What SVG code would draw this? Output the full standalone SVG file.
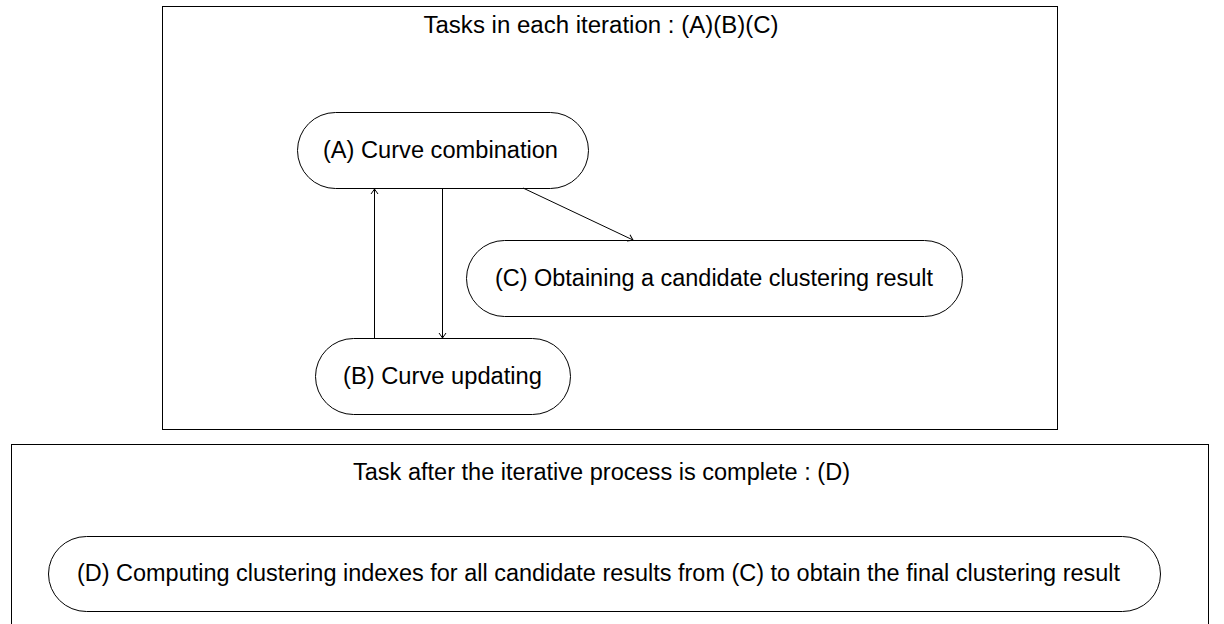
<svg xmlns="http://www.w3.org/2000/svg" width="1224" height="624" viewBox="0 0 1224 624">
  <style>
    text { font-family: "Liberation Sans", Arial, sans-serif; font-size: 23.5px; fill: #000; text-anchor: middle; }
    .frame { fill: none; stroke: #000; stroke-width: 1; }
    .node { fill: #fff; stroke: #000; stroke-width: 1; }
    .edge { fill: none; stroke: #000; stroke-width: 1; marker-end: url(#tip); }
  </style>
  <defs>
    <marker id="tip" viewBox="-6 -5 8 10" markerWidth="8" markerHeight="10" refX="0" refY="0" orient="auto" markerUnits="userSpaceOnUse">
      <path d="M-5,-3.5 Q-1.5,-1 0,0 Q-1.5,1 -5,3.5" fill="none" stroke="#000" stroke-width="1"/>
    </marker>
  </defs>

  <!-- iteration frame -->
  <g id="frame-iteration">
    <rect class="frame" x="162.5" y="6.5" width="895" height="423"/>
    <text x="601" y="33" textLength="355" lengthAdjust="spacingAndGlyphs">Tasks in each iteration : (A)(B)(C)</text>
  </g>

  <!-- post-process frame -->
  <g id="frame-final">
    <rect class="frame" x="11.5" y="444.5" width="1197" height="200"/>
    <text x="601.5" y="480" textLength="497" lengthAdjust="spacingAndGlyphs">Task after the iterative process is complete : (D)</text>
  </g>

  <g id="node-A">
    <rect class="node" x="297.5" y="112.5" width="291" height="76" rx="38" ry="38"/>
    <text x="440.5" y="158" textLength="235" lengthAdjust="spacingAndGlyphs">(A) Curve combination</text>
  </g>

  <g id="node-B">
    <rect class="node" x="315.5" y="338.5" width="255" height="76" rx="38" ry="38"/>
    <text x="442.5" y="384" textLength="199" lengthAdjust="spacingAndGlyphs">(B) Curve updating</text>
  </g>

  <g id="node-C">
    <rect class="node" x="466.5" y="240.5" width="496" height="76" rx="38" ry="38"/>
    <text x="714" y="286" textLength="438" lengthAdjust="spacingAndGlyphs">(C) Obtaining a candidate clustering result</text>
  </g>

  <g id="node-D">
    <rect class="node" x="48.5" y="536.5" width="1112" height="75" rx="38" ry="37.5"/>
    <text x="598.5" y="581" textLength="1043" lengthAdjust="spacingAndGlyphs">(D) Computing clustering indexes for all candidate results from (C) to obtain the final clustering result</text>
  </g>

  <g id="connectors">
    <line class="edge" x1="374.5" y1="338" x2="374.5" y2="189"/>
    <line class="edge" x1="442.5" y1="188" x2="442.5" y2="338"/>
    <line class="edge" x1="523" y1="188" x2="633" y2="240"/>
  </g>
</svg>
